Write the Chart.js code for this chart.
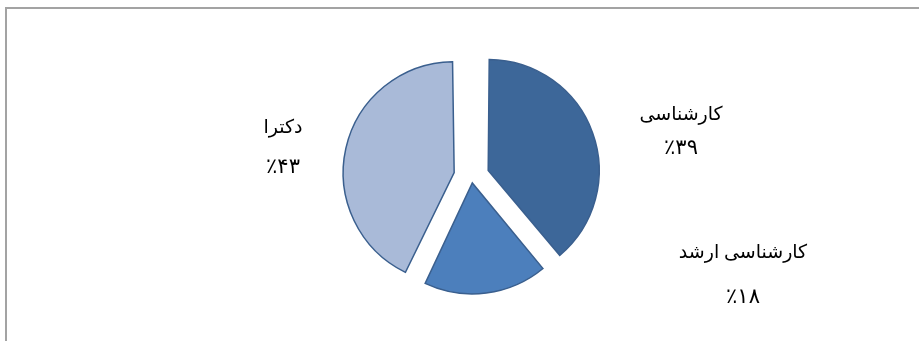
<!DOCTYPE html>
<html>
<head>
<meta charset="utf-8">
<script src="https://cdn.jsdelivr.net/npm/chart.js@4"></script>
<style>
  html, body { margin: 0; padding: 0; background: #ffffff; }
  #wrap { width: 919px; height: 341px; position: relative; }
</style>
</head>
<body>
<div id="wrap"><canvas id="pie" width="919" height="341"></canvas></div>
<script>
// Degree shares
const categories = ['کارشناسی', 'کارشناسی ارشد', 'دکترا'];
const shares = [39, 18, 43];
const percentLabels = ['٪۳۹', '٪۱۸', '٪۴۳'];

// Slice styling
const sliceColors = ['#3D6799', '#4C7FBC', '#A9BAD8'];
const sliceOffsets = [71, 26, 71];
const pieRadius = 111;

// Where each name / percentage pair is centred
const labelPlacement = [
  { x: 681, y: 115, dy: 33 },
  { x: 743, y: 253, dy: 44 },
  { x: 283, y: 128, dy: 39 }
];

// Keep every exploded slice at the same radius
const evenRadius = {
  id: 'evenRadius',
  beforeDatasetsDraw(chart) {
    chart.getDatasetMeta(0).data.forEach(arc => {
      const shift = (arc.options.offset || 0) / 4;
      const fix = 1 - Math.sin(Math.min(Math.PI, arc.circumference));
      arc.outerRadius = pieRadius - shift * fix;
    });
  }
};

// Grey frame along the top and left edges
const frame = {
  id: 'frame',
  beforeDraw(chart) {
    const ctx = chart.ctx;
    ctx.save();
    ctx.strokeStyle = '#a3a3a3';
    ctx.lineWidth = 2;
    ctx.beginPath();
    ctx.moveTo(919, 8);
    ctx.lineTo(6, 8);
    ctx.lineTo(6, 341);
    ctx.stroke();
    ctx.restore();
  }
};

// Name and percentage next to each slice
const sliceLabels = {
  id: 'sliceLabels',
  afterDatasetsDraw(chart) {
    const ctx = chart.ctx;
    ctx.save();
    ctx.fillStyle = '#000000';
    ctx.textAlign = 'center';
    ctx.textBaseline = 'middle';
    categories.forEach((name, i) => {
      const p = labelPlacement[i];
      ctx.direction = 'rtl';
      ctx.font = '19px "Times New Roman", "Liberation Serif", "DejaVu Sans", serif';
      ctx.fillText(name, p.x, p.y);
      ctx.direction = 'ltr';
      ctx.font = '21px "Times New Roman", "Liberation Serif", "DejaVu Sans", serif';
      ctx.fillText(percentLabels[i], p.x, p.y + p.dy);
    });
    ctx.restore();
  }
};

new Chart(document.getElementById('pie'), {
  type: 'pie',
  data: {
    labels: categories,
    datasets: [{
      data: shares,
      backgroundColor: sliceColors,
      borderColor: '#3A5F8E',
      borderWidth: 1.5,
      borderJoinStyle: 'miter',
      offset: sliceOffsets,
      radius: pieRadius
    }]
  },
  options: {
    responsive: false,
    animation: false,
    events: [],
    rotation: 0,
    layout: { padding: { left: 24, top: 12, right: 0, bottom: 0 } },
    plugins: {
      legend: { display: false },
      tooltip: { enabled: false }
    }
  },
  plugins: [frame, evenRadius, sliceLabels]
});
</script>
</body>
</html>
